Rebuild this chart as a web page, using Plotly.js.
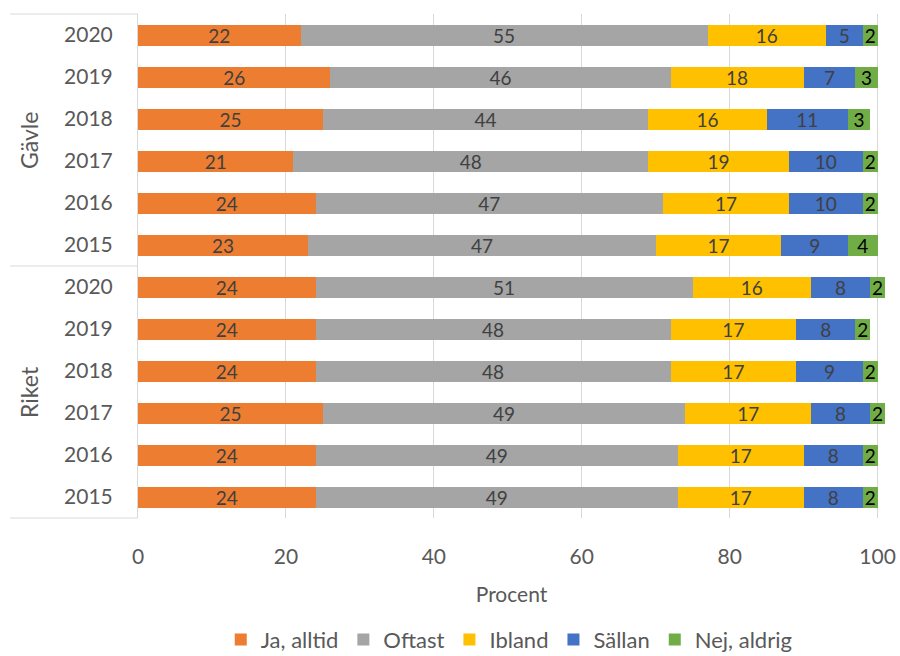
<!DOCTYPE html>
<html><head><meta charset="utf-8">
<script src="https://cdn.plot.ly/plotly-3.0.1.min.js"></script>
<style>html,body{margin:0;padding:0;background:#fff}#chart{width:900px;height:656px}</style>
</head><body><div id="chart"></div>
<script>
const groups = ["Gävle","Gävle","Gävle","Gävle","Gävle","Gävle","Riket","Riket","Riket","Riket","Riket","Riket"];
const years = ["2020","2019","2018","2017","2016","2015","2020","2019","2018","2017","2016","2015"];
const seriesNames = ["Ja, alltid","Oftast","Ibland","Sällan","Nej, aldrig"];
const jaAlltid = [22,26,25,21,24,23,24,24,24,25,24,24];
const oftast   = [55,46,44,48,47,47,51,48,48,49,49,49];
const ibland   = [16,18,16,19,17,17,16,17,17,17,17,17];
const sallan   = [5,7,11,10,10,9,8,8,9,8,8,8];
const nejAldrig= [2,3,3,2,2,4,2,2,2,2,2,2];
const xTicks = [0,20,40,60,80,100];

const colors = ["#ED7D31","#A5A5A5","#FFC000","#4472C4","#70AD47"];
const textColors = ["#404040","#404040","#404040","#404040","#000000"];
const cats = groups.map((g,i)=>g+"|"+years[i]);
const allSeries = [jaAlltid,oftast,ibland,sallan,nejAldrig];
const FONT = "Lato, 'Open Sans', sans-serif";

const traces = allSeries.map((vals,k)=>({
  type:"bar", orientation:"h", name:seriesNames[k],
  y:cats, x:vals, text:vals.map(String),
  textposition:"inside", insidetextanchor:"middle", constraintext:"none", textangle:0,
  textfont:{family:FONT,size:19,color:textColors[k]},
  marker:{color:colors[k], line:{width:0}},
  cliponaxis:false,
  hoverinfo:"x+name"
}));

// plot area: 0 at x=138, 100 at x=878; range extended to 101 so bars summing to 101 stay visible
const layout = {
  width:900, height:656,
  margin:{l:138,r:14.6,t:14,b:138, autoexpand:false},
  barmode:"stack", bargap:0.5,
  paper_bgcolor:"#fff", plot_bgcolor:"#fff",
  font:{family:FONT,color:"#595959",size:21},
  xaxis:{range:[0,101], tickvals:xTicks, ticktext:xTicks.map(String), automargin:false,
    showgrid:true, gridcolor:"#D9D9D9", gridwidth:1, zeroline:false,
    showline:false, ticks:"outside", ticklen:20, tickcolor:"rgba(0,0,0,0)", tickfont:{size:21,color:"#595959"},
    title:{text:"Procent", font:{size:21,color:"#595959"}, standoff:20}},
  yaxis:{type:"category", categoryorder:"array", categoryarray:cats, autorange:"reversed", automargin:false,
    tickvals:cats, ticktext:years, showgrid:false, zeroline:false,
    showline:true, linecolor:"#D9D9D9", linewidth:1,
    ticks:"outside", ticklen:20, tickcolor:"rgba(0,0,0,0)",
    tickfont:{size:21,color:"#595959"}},
  legend:{orientation:"h", x:0.497, xanchor:"center", xref:"paper", yref:"container", y:0.025, yanchor:"middle",
    font:{size:22,color:"#595959"}, traceorder:"normal", itemwidth:30},
  showlegend:true,
  annotations:[
    {text:"Gävle", xref:"paper", yref:"paper", x:-0.146, xanchor:"center", y:0.75, yanchor:"middle", textangle:-90, showarrow:false, font:{size:23,color:"#595959"}},
    {text:"Riket", xref:"paper", yref:"paper", x:-0.146, xanchor:"center", y:0.25, yanchor:"middle", textangle:-90, showarrow:false, font:{size:23,color:"#595959"}}
  ],
  shapes:[0,0.5,1].map(yy=>({type:"line", xref:"paper", yref:"paper", x0:-0.171, x1:0, y0:yy, y1:yy, line:{color:"#D9D9D9",width:1}}))
};
Plotly.newPlot("chart", traces, layout, {displayModeBar:false, staticPlot:true});
</script></body></html>
